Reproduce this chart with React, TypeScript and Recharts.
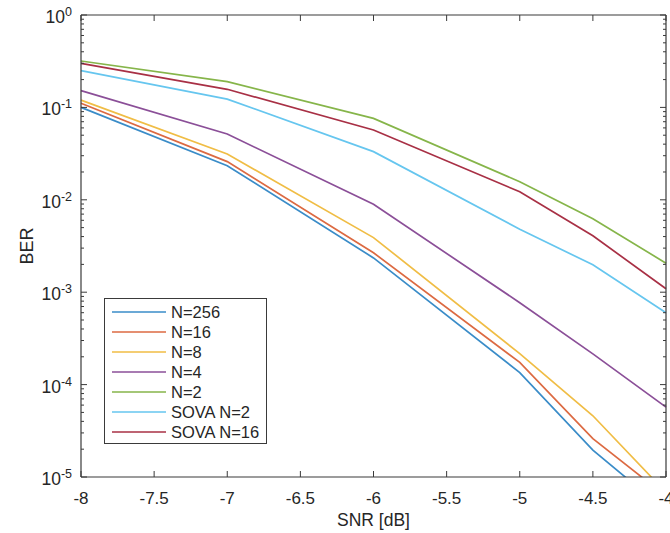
import { LineChart, Line, XAxis, YAxis, Legend } from 'recharts';

// SNR points (dB) where BER was measured
const SNR_DB = [-8, -7, -6, -5, -4.5, -4];

// BER per decoder
const BER_N256 = [0.1, 0.0234, 0.00235, 0.000135, 1.95e-5, 4.3e-6];
const BER_N16 = [0.111, 0.0259, 0.00267, 0.000174, 2.6e-5, 6.2e-6];
const BER_N8 = [0.12, 0.0313, 0.0039, 0.000216, 4.6e-5, 6.8e-6];
const BER_N4 = [0.152, 0.0515, 0.00895, 0.00077, 0.000215, 5.7e-5];
const BER_N2 = [0.318, 0.19, 0.076, 0.0157, 0.00625, 0.00206];
const BER_SOVA_N2 = [0.25, 0.123, 0.0332, 0.0048, 0.00198, 0.0006];
const BER_SOVA_N16 = [0.3, 0.157, 0.057, 0.0122, 0.00408, 0.00109];

const X_TICKS = [-8, -7.5, -7, -6.5, -6, -5.5, -5, -4.5, -4];
const Y_MAJOR = [1e-5, 1e-4, 1e-3, 1e-2, 1e-1, 1];
const Y_EXPONENTS = ['-5', '-4', '-3', '-2', '-1', '0'];
const Y_MINOR = Y_MAJOR.slice(0, -1).flatMap((d) => [2, 3, 4, 5, 6, 7, 8, 9].map((k) => k * d));
const Y_TICKS = [...Y_MAJOR, ...Y_MINOR].sort((a, b) => a - b);

const SERIES = [
  { key: 'n256', name: 'N=256', color: '#3a8cc8', values: BER_N256 },
  { key: 'n16', name: 'N=16', color: '#dc6a42', values: BER_N16 },
  { key: 'n8', name: 'N=8', color: '#f0bd45', values: BER_N8 },
  { key: 'n4', name: 'N=4', color: '#8b4f98', values: BER_N4 },
  { key: 'n2', name: 'N=2', color: '#86b54a', values: BER_N2 },
  { key: 'sova2', name: 'SOVA N=2', color: '#66c6ef', values: BER_SOVA_N2 },
  { key: 'sova16', name: 'SOVA N=16', color: '#a83045', values: BER_SOVA_N16 },
];

const data = SNR_DB.map((snr, i) => {
  const row: Record<string, number> = { snr };
  SERIES.forEach((s) => (row[s.key] = s.values[i]));
  return row;
});

const AXIS = '#3a3a3a';
const FONT = '"Liberation Sans", Arial, Helvetica, sans-serif';
const TEXT = '#262626';

const majorIndex = (v: number) => Y_MAJOR.findIndex((m) => Math.abs(v / m - 1) < 1e-6);

function LeftTick({ x, y, payload }: any) {
  const i = majorIndex(payload.value);
  const len = i >= 0 ? 6 : 3;
  return (
    <g>
      <line x1={x} x2={x + len} y1={y} y2={y} stroke={AXIS} />
      {i >= 0 && (
        <text x={x - 9} y={y + 8} textAnchor="end" fontSize={17.5} fontFamily={FONT} fill={TEXT}>
          10
          <tspan dy={-7} fontSize={12.5}>
            {Y_EXPONENTS[i]}
          </tspan>
        </text>
      )}
    </g>
  );
}

function RightTick({ x, y, payload }: any) {
  const len = majorIndex(payload.value) >= 0 ? 6 : 3;
  return <line x1={x} x2={x - len} y1={y} y2={y} stroke={AXIS} />;
}

function BottomTick({ x, y, payload }: any) {
  return (
    <g>
      <line x1={x} x2={x} y1={y} y2={y - 6} stroke={AXIS} />
      <text x={x} y={y + 27} textAnchor="middle" fontSize={17} fontFamily={FONT} fill={TEXT}>
        {payload.value}
      </text>
    </g>
  );
}

function TopTick({ x, y }: any) {
  return <line x1={x} x2={x} y1={y} y2={y + 6} stroke={AXIS} />;
}

function LegendBox() {
  return (
    <div
      style={{
        border: `1.5px solid ${AXIS}`,
        background: '#fff',
        padding: '3px 0 1px 0',
        fontFamily: FONT,
        fontSize: 16.5,
        color: TEXT,
        boxSizing: 'border-box',
      }}
    >
      {SERIES.map((s) => (
        <div key={s.key} style={{ display: 'flex', alignItems: 'center', height: 20 }}>
          <svg width={66} height={20} style={{ display: 'block' }}>
            <line x1={7} x2={61} y1={10} y2={10} stroke={s.color} strokeWidth={1.5} />
          </svg>
          <span style={{ whiteSpace: 'nowrap' }}>{s.name}</span>
        </div>
      ))}
    </div>
  );
}

export default function App() {
  return (
    <div style={{ position: 'absolute', left: 0, top: 0, width: 670, height: 533, background: '#fff' }}>
      <LineChart width={670} height={533} data={data} margin={{ top: 14, right: 3, bottom: 0, left: 0 }}>
        <XAxis
          dataKey="snr"
          type="number"
          domain={[-8, -4]}
          ticks={X_TICKS}
          interval={0}
          height={56}
          tickSize={0}
          tickMargin={0}
          tickLine={false}
          axisLine={{ stroke: AXIS, strokeWidth: 1.2 }}
          tick={(p: any) => <BottomTick {...p} />}
          label={{
            content: ({ viewBox }: any) => (
              <text
                x={viewBox.x + viewBox.width / 2}
                y={viewBox.y + 49}
                textAnchor="middle"
                fontSize={17.5}
                fontFamily={FONT}
                fill={TEXT}
              >
                SNR [dB]
              </text>
            ),
          }}
        />
        <XAxis
          xAxisId="top"
          orientation="top"
          dataKey="snr"
          type="number"
          domain={[-8, -4]}
          ticks={X_TICKS}
          interval={0}
          height={1}
          tickSize={0}
          tickMargin={0}
          tickLine={false}
          axisLine={{ stroke: AXIS, strokeWidth: 1.2 }}
          tick={(p: any) => <TopTick {...p} />}
        />
        <YAxis
          type="number"
          scale="log"
          domain={[1e-5, 1]}
          allowDataOverflow
          ticks={Y_TICKS}
          interval={0}
          width={81}
          tickSize={0}
          tickMargin={0}
          tickLine={false}
          axisLine={{ stroke: AXIS, strokeWidth: 1.2 }}
          tick={(p: any) => <LeftTick {...p} />}
          label={{
            content: ({ viewBox }: any) => {
              const cx = 27;
              const cy = viewBox.y + viewBox.height / 2;
              return (
                <text
                  x={cx}
                  y={cy}
                  transform={`rotate(-90 ${cx} ${cy})`}
                  textAnchor="middle"
                  dominantBaseline="central"
                  fontSize={18}
                  fontFamily={FONT}
                  fill={TEXT}
                >
                  BER
                </text>
              );
            },
          }}
        />
        <YAxis
          yAxisId="right"
          orientation="right"
          type="number"
          scale="log"
          domain={[1e-5, 1]}
          allowDataOverflow
          ticks={Y_TICKS}
          interval={0}
          width={1}
          tickSize={0}
          tickMargin={0}
          tickLine={false}
          axisLine={{ stroke: AXIS, strokeWidth: 1.2 }}
          tick={(p: any) => <RightTick {...p} />}
        />
        {SERIES.map((s) => (
          <Line
            key={s.key}
            dataKey={s.key}
            name={s.name}
            stroke={s.color}
            strokeWidth={1.7}
            dot={false}
            activeDot={false}
            isAnimationActive={false}
          />
        ))}
        <Legend
          layout="vertical"
          align="center"
          verticalAlign="middle"
          wrapperStyle={{ left: 104, top: 298, width: 163 }}
          content={() => <LegendBox />}
        />
      </LineChart>
    </div>
  );
}
